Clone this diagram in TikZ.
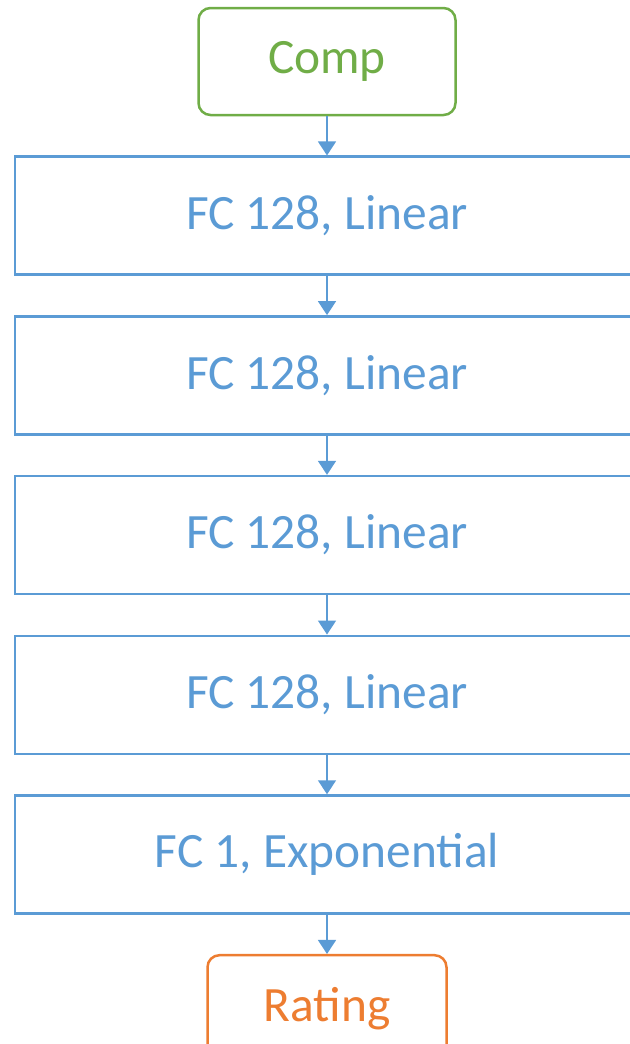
\documentclass[tikz,border=0pt]{standalone}
\usepackage{fontspec}
\setmainfont{Carlito}
\usetikzlibrary{arrows.meta}
\usetikzlibrary{positioning}

\definecolor{layerblue}{HTML}{5B9BD5}
\definecolor{ingreen}{HTML}{70AD47}
\definecolor{outorange}{HTML}{ED7D31}

\begin{document}
\begin{tikzpicture}[-{Triangle[length=7pt,width=9pt]},shorten >=0pt,auto,node distance=19.6pt,
  thick,layer node/.style={rectangle,draw=layerblue,text=layerblue,line width=1.25pt,
    minimum width=312pt,minimum height=59pt,font=\fontsize{24.7}{30}\selectfont},
  end node/.style={rectangle,rounded corners=6pt,line width=1.25pt,
    minimum height=53.5pt,font=\fontsize{24.7}{30}\selectfont}]

  \useasboundingbox (0,0) rectangle (315pt,-522pt);

  \node[end node,draw=ingreen,text=ingreen,minimum width=128.5pt] (Comp) at (163.5pt,-30.75pt) {Comp};
  \node[layer node] (FC1) [below = of Comp] {FC 128, Linear};
  \node[layer node] (FC2) [below = of FC1] {FC 128, Linear};
  \node[layer node] (FC3) [below = of FC2] {FC 128, Linear};
  \node[layer node] (FC4) [below = of FC3] {FC 128, Linear};
  \node[layer node] (FC5) [below = of FC4] {FC 1, Exponential};
  \node[end node,draw=outorange,text=outorange,minimum width=119.5pt] (Rating) [below = of FC5] {Rating};

  \path[color=layerblue,line width=0.75pt,every node/.style={font=\small}]
    (Comp) edge (FC1)
    (FC1) edge (FC2)
    (FC2) edge (FC3)
    (FC3) edge (FC4)
    (FC4) edge (FC5)
    (FC5) edge (Rating);

\end{tikzpicture}
\end{document}
